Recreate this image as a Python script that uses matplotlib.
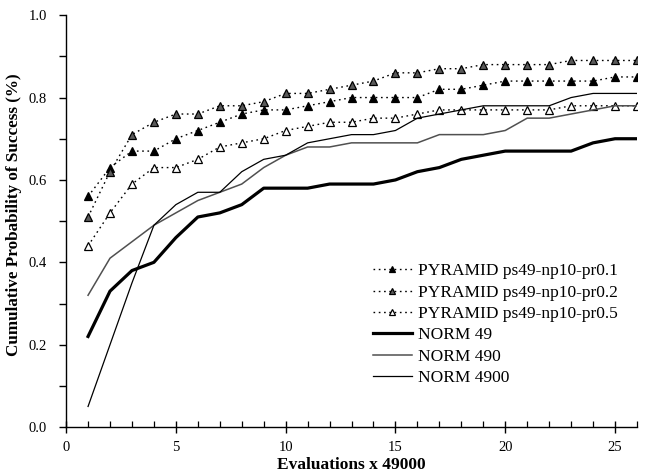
import matplotlib
matplotlib.use("Agg")
import matplotlib.pyplot as plt
from matplotlib.ticker import MultipleLocator, FormatStrFormatter

plt.rcParams['font.family'] = ['Liberation Serif', 'DejaVu Serif']

evals = list(range(1, 27))

pyr_pr01 = [0.56, 0.63, 0.67, 0.67, 0.70, 0.72, 0.74, 0.76, 0.77, 0.77, 0.78, 0.79, 0.80,
            0.80, 0.80, 0.80, 0.82, 0.82, 0.83, 0.84, 0.84, 0.84, 0.84, 0.84, 0.85, 0.85]
pyr_pr02 = [0.51, 0.62, 0.71, 0.74, 0.76, 0.76, 0.78, 0.78, 0.79, 0.81, 0.81, 0.82, 0.83,
            0.84, 0.86, 0.86, 0.87, 0.87, 0.88, 0.88, 0.88, 0.88, 0.89, 0.89, 0.89, 0.89]
pyr_pr05 = [0.44, 0.52, 0.59, 0.63, 0.63, 0.65, 0.68, 0.69, 0.70, 0.72, 0.73, 0.74, 0.74,
            0.75, 0.75, 0.76, 0.77, 0.77, 0.77, 0.77, 0.77, 0.77, 0.78, 0.78, 0.78, 0.78]
norm_49 = [0.22, 0.33, 0.38, 0.40, 0.46, 0.51, 0.52, 0.54, 0.58, 0.58, 0.58, 0.59, 0.59,
           0.59, 0.60, 0.62, 0.63, 0.65, 0.66, 0.67, 0.67, 0.67, 0.67, 0.69, 0.70, 0.70]
norm_490 = [0.32, 0.41, 0.45, 0.49, 0.52, 0.55, 0.57, 0.59, 0.63, 0.66, 0.68, 0.68, 0.69,
            0.69, 0.69, 0.69, 0.71, 0.71, 0.71, 0.72, 0.75, 0.75, 0.76, 0.77, 0.78, 0.78]
norm_4900 = [0.05, 0.20, 0.35, 0.49, 0.54, 0.57, 0.57, 0.62, 0.65, 0.66, 0.69, 0.70, 0.71,
             0.71, 0.72, 0.75, 0.76, 0.77, 0.78, 0.78, 0.78, 0.78, 0.80, 0.81, 0.81, 0.81]

labels = ["PYRAMID ps49-np10-pr0.1", "PYRAMID ps49-np10-pr0.2", "PYRAMID ps49-np10-pr0.5",
          "NORM 49", "NORM 490", "NORM 4900"]

fig = plt.figure(figsize=(6.48, 4.74), dpi=100)
ax = fig.add_axes([0.102, 0.099, 0.881, 0.869])

dotted = (0, (1.2, 2.6))
mk = dict(marker='^', markersize=5.8, markeredgecolor='black', markeredgewidth=0.9)
ax.plot(evals, pyr_pr01, color='black', lw=1.0, linestyle=dotted, markerfacecolor='black', label=labels[0], **mk)
ax.plot(evals, pyr_pr02, color='black', lw=1.0, linestyle=dotted, markerfacecolor='#5a5a5a', label=labels[1], **mk)
ax.plot(evals, pyr_pr05, color='black', lw=1.0, linestyle=dotted, markerfacecolor='white', label=labels[2], **mk)
ax.plot(evals, norm_49, color='black', lw=2.3, label=labels[3])
ax.plot(evals, norm_490, color='#505050', lw=1.1, label=labels[4])
ax.plot(evals, norm_4900, color='black', lw=0.9, label=labels[5])

ax.set_xlim(0, 26)
ax.set_ylim(0, 1.0)
ax.xaxis.set_major_locator(MultipleLocator(5))
ax.xaxis.set_minor_locator(MultipleLocator(1))
ax.yaxis.set_major_locator(MultipleLocator(0.2))
ax.yaxis.set_minor_locator(MultipleLocator(0.1))
ax.yaxis.set_major_formatter(FormatStrFormatter('%.1f'))

for s in ('top', 'right'):
    ax.spines[s].set_visible(False)
for s in ('left', 'bottom'):
    ax.spines[s].set_linewidth(1.0)

ax.tick_params(axis='x', which='major', direction='inout', length=8, width=1.0, labelsize=10.5, pad=6)
ax.tick_params(axis='x', which='minor', direction='in', length=4, width=0.9)
ax.tick_params(axis='y', which='both', direction='out', length=5, width=1.0, labelsize=10.5, pad=9)

ax.set_xlabel('Evaluations x 49000', fontsize=12.5, fontweight='bold', labelpad=2)
ax.set_ylabel('Cumulative Probability of Success (%)', fontsize=12.3, fontweight='bold')
ax.yaxis.set_label_coords(-0.078, 0.515)

leg = ax.legend(loc='upper left', bbox_to_anchor=(0.525, 0.415), frameon=False, fontsize=12.5,
                handlelength=2.25, handletextpad=0.35, labelspacing=0.3, borderaxespad=0,
                markerscale=0.75)

fig.savefig('out.png', dpi=100)
